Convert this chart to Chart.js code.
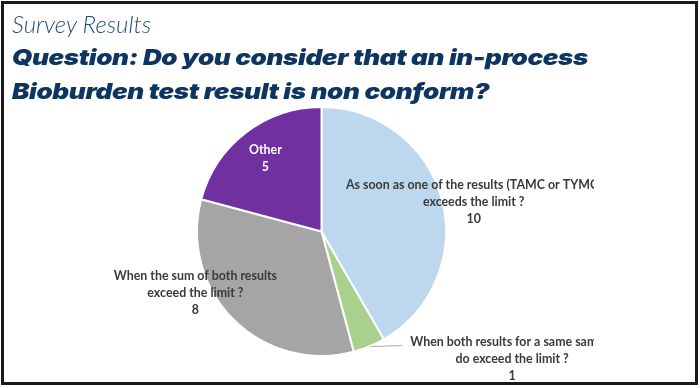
<!DOCTYPE html>
<html>
<head>
<meta charset="utf-8">
<script src="https://cdn.jsdelivr.net/npm/chart.js@4"></script>
<style>
  html, body { margin: 0; padding: 0; background: #fff; }
  #frame {
    position: absolute; left: 1px; top: 1px; width: 691px; height: 378px;
    border: 3px solid #1a1a1a; overflow: hidden;
  }
  #sub {
    position: absolute; left: 8px; top: 5px;
    font: italic 300 24px "Lato", sans-serif; color: #1f4e79; white-space: nowrap;
  }
  .q {
    position: absolute; left: 8px; transform-origin: 0 50%;
    font: italic 900 22px/30px "Inter", sans-serif; color: #0d3560; white-space: nowrap;
    letter-spacing: -0.3px;
  }
  canvas { position: absolute; left: -4px; top: -4px; }
</style>
</head>
<body>
<div id="frame">
  <canvas id="pie-chart" width="700" height="388"></canvas>
  <div id="sub">Survey Results</div>
  <div class="q" id="q1" style="top:38px">Question: Do you consider that an in-process</div>
  <div class="q" id="q2" style="top:72px">Bioburden test result is non conform?</div>
</div>
<script>
var answers = [
  ['As soon as one of the results (TAMC or TYMC)', 'exceeds the limit ?'],
  ['When both results for a same sample', 'do exceed the limit ?'],
  ['When the sum of both results', 'exceed the limit ?'],
  ['Other']
];
var counts = [10, 1, 8, 5];
var colors = ['#bdd7ee', '#a9d18e', '#a5a5a5', '#7030a0'];

// where each label block sits, relative to the slice (in radius units)
var labelPlace = [
  { r: 1.25, da: 3, dx: 0, dy: 3, color: '#3a3a3a' },
  { line: true, color: '#3a3a3a' },
  { r: 1.1, da: 19, dx: -3, dy: 1, color: '#3a3a3a' },
  { r: 0.74, da: 0, dx: 0, dy: 0, color: '#ffffff' }
];

// stretch the heavy title to the width it has on the slide
var q1 = document.getElementById('q1');
var k = 576 / q1.getBoundingClientRect().width;
q1.style.transform = 'scaleX(' + k + ')';
document.getElementById('q2').style.transform = 'scaleX(' + k + ')';

var sliceLabels = {
  id: 'sliceLabels',
  afterDatasetsDraw: function (chart) {
    var ctx = chart.ctx;
    var arcs = chart.getDatasetMeta(0).data;
    ctx.save();
    ctx.beginPath();
    ctx.rect(0, 0, 594, 388);
    ctx.clip();
    ctx.font = 'bold 12.4px "Lato", sans-serif';
    ctx.textAlign = 'center';
    ctx.textBaseline = 'middle';
    arcs.forEach(function (arc, i) {
      var p = arc.getProps(['x', 'y', 'startAngle', 'endAngle', 'outerRadius'], true);
      var mid = (p.startAngle + p.endAngle) / 2;
      var place = labelPlace[i];
      var lines = answers[i].concat([String(counts[i])]);
      var cx, cy;
      if (place.line) {
        var ex = p.x + Math.cos(mid) * p.outerRadius;
        var ey = p.y + Math.sin(mid) * p.outerRadius;
        ctx.strokeStyle = '#a6a6a6';
        ctx.lineWidth = 1;
        ctx.beginPath();
        ctx.moveTo(ex + 2, ey);
        ctx.lineTo(ex + 33, ey - 1);
        ctx.stroke();
        cx = ex + 143;
        cy = ey + 12;
      } else {
        var a = mid + place.da * Math.PI / 180;
        cx = p.x + Math.cos(a) * p.outerRadius * place.r + place.dx;
        cy = p.y + Math.sin(a) * p.outerRadius * place.r + place.dy;
      }
      ctx.fillStyle = place.color;
      var top = cy - (lines.length - 1) * 17 / 2;
      lines.forEach(function (t, k) {
        ctx.fillText(t, cx, top + k * 17);
      });
    });
    ctx.restore();
  }
};

var ctx = document.getElementById('pie-chart').getContext('2d');
var chart = new Chart(ctx, {
  type: 'pie',
  data: {
    labels: answers.map(function (a) { return a.join(' '); }),
    datasets: [{
      data: counts,
      backgroundColor: colors,
      borderColor: '#ffffff',
      borderWidth: 2
    }]
  },
  options: {
    responsive: false,
    animation: false,
    layout: { padding: { left: 196, right: 253, top: 106, bottom: 31 } },
    plugins: {
      legend: { display: false },
      tooltip: { enabled: false }
    }
  },
  plugins: [sliceLabels]
});
</script>
</body>
</html>
